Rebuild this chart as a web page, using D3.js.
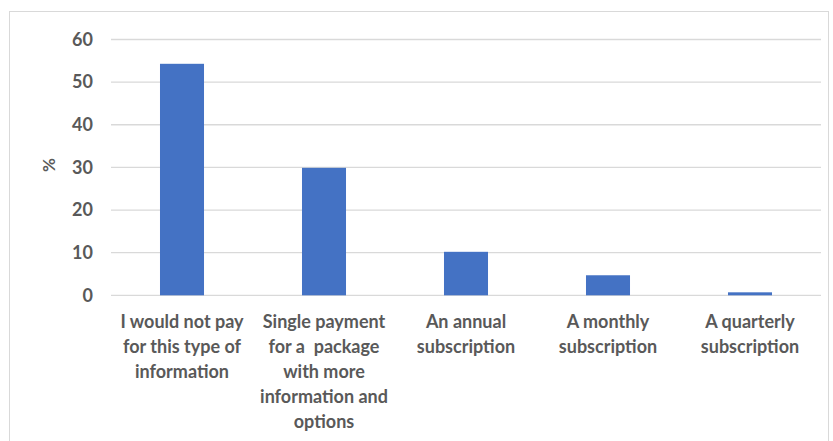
<!DOCTYPE html>
<html><head><meta charset="utf-8">
<script src="https://cdn.jsdelivr.net/npm/d3@7"></script>
<style>body{margin:0;background:#fff}svg{display:block}text{font-family:Lato,"Open Sans",sans-serif;font-weight:bold;fill:#595959}</style>
</head><body>
<script>
const categories = [
  ["I would not pay","for this type of","information"],
  ["Single payment","for a  package","with more","information and","options"],
  ["An annual","subscription"],
  ["A monthly","subscription"],
  ["A quarterly","subscription"]
];
const values = [54.3, 29.9, 10.2, 4.7, 0.7];
const yTicks = [0,10,20,30,40,50,60];
const yLabel = "%";

const W=833,H=441;
const svg=d3.select("body").append("svg").attr("width",W).attr("height",H);
svg.append("rect").attr("x",9.5).attr("y",11.5).attr("width",819).attr("height",440).attr("fill","none").attr("stroke","#d9d9d9");
const x=d3.scaleBand().domain(d3.range(categories.length)).range([111,821]).paddingInner(0.69).paddingOuter(0.345);
const y=d3.scaleLinear().domain([0,60]).range([295.3,39.5]);
const g=svg.append("g");
g.selectAll("line.grid").data(yTicks).join("line").attr("class","grid")
 .attr("x1",111).attr("x2",821).attr("y1",d=>y(d)).attr("y2",d=>y(d))
 .attr("stroke","#d9d9d9").attr("stroke-width",1.3);
g.selectAll("rect.bar").data(values).join("rect").attr("class","bar")
 .attr("x",(d,i)=>x(i)).attr("width",x.bandwidth()).attr("y",d=>y(d)).attr("height",d=>y(0)-y(d))
 .attr("fill","#4472c4");
g.selectAll("text.yt").data(yTicks).join("text").attr("class","yt")
 .attr("x",93).attr("y",d=>y(d)).attr("dy","0.35em").attr("text-anchor","end")
 .style("font-size","18px").text(d=>d);
svg.append("text").attr("transform","translate(49,165) rotate(-90)").attr("text-anchor","middle").attr("dy","0.35em").style("font-size","17px").text(yLabel);
categories.forEach((lines,i)=>{
  const cx=x(i)+x.bandwidth()/2;
  const t=svg.append("text").attr("text-anchor","middle").style("font-size","18px");
  lines.forEach((l,j)=>t.append("tspan").attr("x",cx).attr("y",328+j*25).style("white-space","pre").text(l));
});
</script>
</body></html>
